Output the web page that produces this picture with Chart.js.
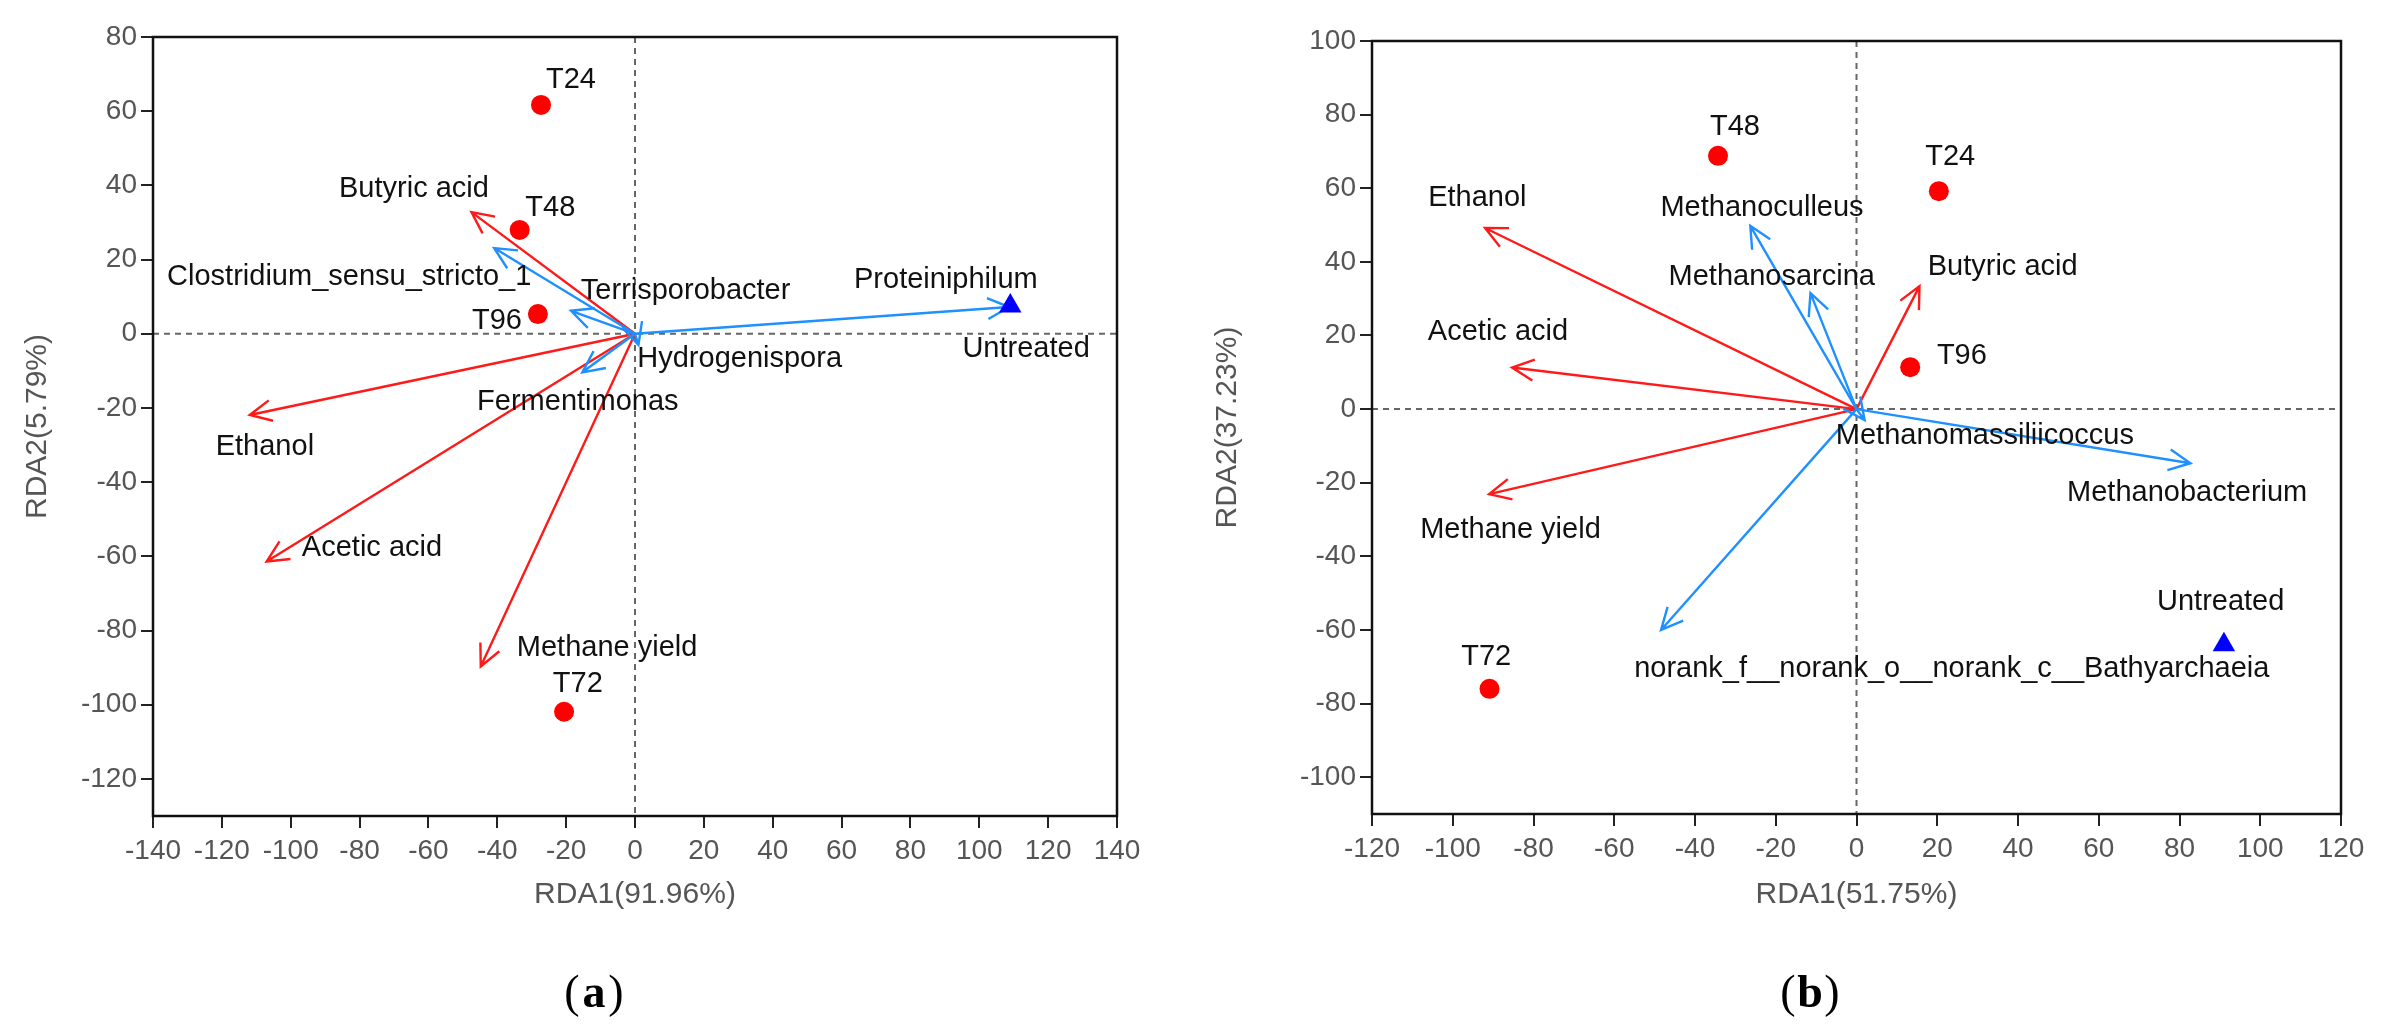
<!DOCTYPE html>
<html lang="en">
<head>
<meta charset="UTF-8">
<title>RDA</title>
<script src="https://cdn.jsdelivr.net/npm/chart.js"></script>
<style>
  body { margin: 0; background: #fff; width: 2388px; height: 1033px; position: relative; overflow: hidden; }
  .box { position: absolute; top: 0; height: 1033px; }
  #boxA { left: 0; width: 1190px; }
  #boxB { left: 1190px; width: 1198px; }
</style>
</head>
<body>
<div class="box" id="boxA"><canvas id="chartA"></canvas></div>
<div class="box" id="boxB"><canvas id="chartB"></canvas></div>
<script>
// ---- panel (a) ----
var aSamples = ['T24', 'T48', 'T96', 'T72'];
var aSampleX = [-27.3, -33.5, -28.2, -20.6];
var aSampleY = [61.7, 28, 5.3, -101.9];
var aUntreated = [109, 7.5];
var aEnvNames = ['Butyric acid', 'Ethanol', 'Acetic acid', 'Methane yield'];
var aEnvX = [-47.5, -111.9, -107, -44.8];
var aEnvY = [32.8, -21.9, -61.4, -89.7];
var aTaxaNames = ['Proteiniphilum', 'Clostridium_sensu_stricto_1', 'Terrisporobacter', 'Fermentimonas', 'Hydrogenispora'];
var aTaxaX = [108.7, -40.9, -18.6, -15.3, 1];
var aTaxaY = [7.2, 23.1, 6.2, -10.4, -3];
// label anchors (text centres, data units)
var aLabels = [
  ['T24', -18.6, 68.4], ['T48', -24.6, 33.8], ['T96', -40.1, 3.4], ['T72', -16.6, -94.5],
  ['Butyric acid', -64.2, 39.1], ['Clostridium_sensu_stricto_1', -83, 15.2],
  ['Terrisporobacter', 14.7, 11.4], ['Proteiniphilum', 90.3, 14.6], ['Untreated', 113.6, -4],
  ['Hydrogenispora', 30.4, -6.8], ['Fermentimonas', -16.6, -18.4], ['Ethanol', -107.5, -30.6],
  ['Acetic acid', -76.4, -57.7], ['Methane yield', -8.1, -84.6]
];

// ---- panel (b) ----
var bSamples = ['T48', 'T24', 'T96', 'T72'];
var bSampleX = [-34.3, 20.4, 13.3, -90.9];
var bSampleY = [68.8, 59.2, 11.4, -76];
var bUntreated = [91, -64];
var bEnvNames = ['Ethanol', 'Acetic acid', 'Methane yield', 'Butyric acid'];
var bEnvX = [-92, -85.3, -91, 15.6];
var bEnvY = [49.2, 11.3, -23.1, 33.4];
var bTaxaNames = ['Methanoculleus', 'Methanosarcina', 'Methanobacterium', 'Methanomassiliicoccus', 'norank_f__norank_o__norank_c__Bathyarchaeia'];
var bTaxaX = [-26.3, -11.4, 82.7, 2, -48.4];
var bTaxaY = [49.8, 31.5, -14.7, -3, -60];
var bLabels = [
  ['T48', -30.1, 76.7], ['T24', 23.2, 68.6], ['T96', 26.1, 14.3], ['T72', -91.7, -67.4],
  ['Ethanol', -93.9, 57.3], ['Methanoculleus', -23.4, 54.6], ['Methanosarcina', -21, 35.8],
  ['Butyric acid', 36.2, 38.5], ['Acetic acid', -88.8, 21], ['Methanomassiliicoccus', 31.8, -7.2],
  ['Methanobacterium', 81.9, -22.8], ['Methane yield', -85.7, -32.8], ['Untreated', 90.2, -52.4],
  ['norank_f__norank_o__norank_c__Bathyarchaeia', 23.6, -70.7]
];

var FONT = '"Liberation Sans", Arial, sans-serif';

function arrow(ctx, x0, y0, x1, y1, color) {
  var ang = Math.atan2(y1 - y0, x1 - x0), len = 24, sp = 0.45;
  ctx.strokeStyle = color;
  ctx.lineWidth = 2.4;
  ctx.beginPath();
  ctx.moveTo(x0, y0); ctx.lineTo(x1, y1);
  ctx.moveTo(x1 - len * Math.cos(ang - sp), y1 - len * Math.sin(ang - sp));
  ctx.lineTo(x1, y1);
  ctx.lineTo(x1 - len * Math.cos(ang + sp), y1 - len * Math.sin(ang + sp));
  ctx.stroke();
}

// only keep the round ticks (drop the -130 / -110 ends)
function roundTicks(s) {
  s.ticks = s.ticks.filter(function(t) { return t.value % 20 === 0; });
}

function makeChart(id, opt) {
  var decor = {
    id: 'decor',
    beforeDatasetsDraw: function(chart) {
      var c = chart.ctx, a = chart.chartArea, sx = chart.scales.x, sy = chart.scales.y;
      var ox = sx.getPixelForValue(0), oy = sy.getPixelForValue(0);
      c.save();
      c.strokeStyle = '#666'; c.lineWidth = 2; c.setLineDash([6, 5]);
      c.beginPath();
      c.moveTo(a.left, oy); c.lineTo(a.right, oy);
      c.moveTo(ox, a.top); c.lineTo(ox, a.bottom);
      c.stroke();
      c.setLineDash([]);
      c.strokeStyle = '#111'; c.lineWidth = 2.5;
      c.strokeRect(a.left, a.top, a.right - a.left, a.bottom - a.top);
      for (var i = 0; i < opt.envX.length; i++)
        arrow(c, ox, oy, sx.getPixelForValue(opt.envX[i]), sy.getPixelForValue(opt.envY[i]), '#ff1a1a');
      for (var j = 0; j < opt.taxaX.length; j++)
        arrow(c, ox, oy, sx.getPixelForValue(opt.taxaX[j]), sy.getPixelForValue(opt.taxaY[j]), '#1e90ff');
      c.restore();
    },
    afterDraw: function(chart) {
      var c = chart.ctx, a = chart.chartArea, sx = chart.scales.x, sy = chart.scales.y;
      c.save();
      c.textAlign = 'center'; c.textBaseline = 'middle';
      c.fillStyle = '#111'; c.font = '29px ' + FONT;
      opt.labels.forEach(function(l) {
        c.fillText(l[0], sx.getPixelForValue(l[1]), sy.getPixelForValue(l[2]));
      });
      c.fillStyle = '#555'; c.font = '30px ' + FONT;
      c.fillText(opt.xTitle, (a.left + a.right) / 2, 895);
      c.translate(38, (a.top + a.bottom) / 2);
      c.rotate(-Math.PI / 2);
      c.fillText(opt.yTitle, 0, 0);
      c.restore();
      c.save();
      c.textAlign = 'center'; c.textBaseline = 'middle';
      c.fillStyle = '#000'; c.font = '46px "Liberation Serif", "DejaVu Serif", serif';
      c.fillText('(', opt.tagX - 22, 995);
      c.fillText(')', opt.tagX + 22, 995);
      c.font = 'bold 46px "Liberation Serif", "DejaVu Serif", serif';
      c.fillText(opt.tag, opt.tagX, 995);
      c.restore();
    }
  };
  var tickFont = { family: FONT, size: 28 };
  return new Chart(document.getElementById(id), {
    type: 'scatter',
    data: {
      datasets: [
        {
          data: opt.sx.map(function(v, i) { return { x: v, y: opt.sy[i] }; }),
          pointStyle: 'circle', pointRadius: 10, backgroundColor: '#ff0000', borderWidth: 0
        },
        {
          data: [{ x: opt.untreated[0], y: opt.untreated[1] }],
          pointStyle: 'triangle', pointRadius: 13, backgroundColor: '#0000ff', borderWidth: 0
        }
      ]
    },
    options: {
      responsive: false, animation: false, devicePixelRatio: 1,
      layout: { padding: { top: opt.top, right: opt.right, left: 0, bottom: 0 } },
      plugins: { legend: { display: false }, tooltip: { enabled: false } },
      scales: {
        x: {
          min: opt.xmin, max: opt.xmax,
          ticks: { stepSize: 20, color: '#555', font: tickFont, maxRotation: 0, autoSkip: false, padding: 6 },
          grid: { drawOnChartArea: false, tickLength: 12, color: '#222', lineWidth: 2 },
          border: { display: false },
          afterBuildTicks: roundTicks,
          afterFit: function(s) { s.height = 1033 - opt.bottom; }
        },
        y: {
          min: opt.ymin, max: opt.ymax,
          ticks: { stepSize: 20, color: '#555', font: tickFont, padding: 4 },
          grid: { drawOnChartArea: false, tickLength: 12, color: '#222', lineWidth: 2 },
          border: { display: false },
          afterBuildTicks: roundTicks,
          afterFit: function(s) { s.width = opt.left; }
        }
      }
    },
    plugins: [decor]
  });
}

document.getElementById('chartA').width = 1190;
document.getElementById('chartA').height = 1033;
document.getElementById('chartB').width = 1198;
document.getElementById('chartB').height = 1033;

makeChart('chartA', {
  sx: aSampleX, sy: aSampleY, untreated: aUntreated,
  envX: aEnvX, envY: aEnvY, taxaX: aTaxaX, taxaY: aTaxaY, labels: aLabels,
  xmin: -140, xmax: 140, ymin: -130, ymax: 80,
  left: 153, right: 1190 - 1117, top: 37, bottom: 816,
  xTitle: 'RDA1(91.96%)', yTitle: 'RDA2(5.79%)', tag: 'a', tagX: 594
});
makeChart('chartB', {
  sx: bSampleX, sy: bSampleY, untreated: bUntreated,
  envX: bEnvX, envY: bEnvY, taxaX: bTaxaX, taxaY: bTaxaY, labels: bLabels,
  xmin: -120, xmax: 120, ymin: -110, ymax: 100,
  left: 1372 - 1190, right: 1198 - (2341 - 1190), top: 41, bottom: 814,
  xTitle: 'RDA1(51.75%)', yTitle: 'RDA2(37.23%)', tag: 'b', tagX: 1810 - 1190
});
</script>
</body>
</html>
